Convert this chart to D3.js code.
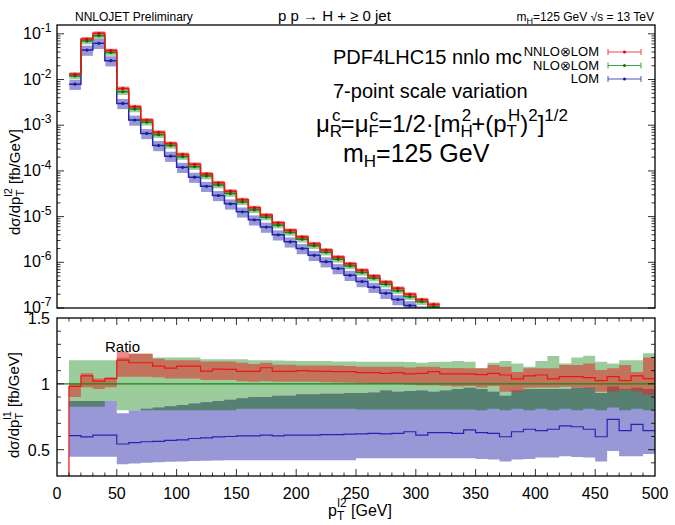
<!DOCTYPE html>
<html>
<head>
<meta charset="utf-8">
<script src="https://cdn.jsdelivr.net/npm/d3@7"></script>
<style>
body { margin: 0; background: #fff; }
svg { font-family: "Liberation Sans", Arial, sans-serif; }
</style>
</head>
<body>
<svg id="chart" width="675" height="525"></svg>
<script>
// ---- data ----
// upper panel: 10 GeV bins starting at 10 GeV, up to 320 GeV
const binsTop = d3.range(10, 320, 10)
const nnloTop = [0.013, 0.077, 0.103, 0.043, 0.0064, 0.00254, 0.0013, 7.0e-4, 4.0e-4, 2.3e-4,
  1.4e-4, 8.6e-5, 5.5e-5, 3.6e-5, 2.35e-5, 1.57e-5, 1.08e-5, 7.3e-6, 5.0e-6, 3.6e-6,
  2.55e-6, 1.85e-6, 1.3e-6, 9.3e-7, 6.7e-7, 5.0e-7, 3.7e-7, 2.7e-7, 2.0e-7, 1.52e-7, 1.2e-7]
const nloTop = [0.012, 0.0695, 0.091, 0.039, 0.0054, 0.00226, 0.00116, 6.2e-4, 3.6e-4, 2.05e-4,
  1.24e-4, 7.7e-5, 4.9e-5, 3.2e-5, 2.1e-5, 1.4e-5, 9.7e-6, 6.5e-6, 4.5e-6, 3.2e-6,
  2.3e-6, 1.66e-6, 1.16e-6, 8.3e-7, 6.0e-7, 4.5e-7, 3.3e-7, 2.4e-7, 1.77e-7, 1.37e-7, 1.07e-7]
const lomTop = [0.0079, 0.044, 0.062, 0.0258, 0.0030, 0.0013, 6.6e-4, 3.6e-4, 2.1e-4, 1.2e-4,
  7.3e-5, 4.6e-5, 2.9e-5, 1.9e-5, 1.27e-5, 8.5e-6, 5.9e-6, 4.0e-6, 2.8e-6, 2.0e-6,
  1.42e-6, 1.03e-6, 7.3e-7, 5.2e-7, 3.8e-7, 2.85e-7, 2.1e-7, 1.53e-7, 1.13e-7, 8.7e-8, 6.8e-8]
// scale-band edges relative to the central value (upper panel)
const nnloBandTop = [0.9, 1.1]
const nloBandTop = [0.85, 1.18]
const lomBandTop = [0.75, 1.25]

// ratio panel: 10 GeV bins starting at 0 GeV, up to 500 GeV
const binsRat = d3.range(0, 500, 10)
const nnloRatio = [0, 0.98, 1.06, 1.02, 1.04, 1.18, 1.16, 1.16, 1.135, 1.12, 1.135,
  1.135, 1.097, 1.112, 1.11, 1.095, 1.095, 1.122, 1.095, 1.095, 1.10,
  1.097, 1.095, 1.092, 1.092, 1.085, 1.085, 1.08, 1.085, 1.075, 1.08,
  1.092, 1.075, 1.075, 1.075, 1.07, 1.08, 1.067, 1.037, 1.06, 1.067,
  1.037, 1.055, 1.055, 1.047, 1.024, 1.055, 1.024, 1.06, 1.04]
const nnloRatioHi = [null, 1.00, 1.08, 1.04, 1.05, 1.244, 1.23, 1.23, 1.19, 1.18, 1.18,
  1.18, 1.17, 1.17, 1.17, 1.16, 1.15, 1.16, 1.145, 1.145, 1.14,
  1.14, 1.14, 1.14, 1.135, 1.13, 1.13, 1.13, 1.13, 1.125, 1.13,
  1.13, 1.12, 1.12, 1.118, 1.118, 1.143, 1.13, 1.09, 1.118, 1.118,
  1.118, 1.143, 1.143, 1.155, 1.105, 1.118, 1.143, 1.09, 1.20]
const nnloRatioLo = [null, 0.90, 0.975, 0.96, 0.975, 1.054, 1.054, 1.054, 1.05, 1.04, 1.04,
  1.04, 1.03, 1.03, 1.03, 1.02, 1.016, 1.02, 1.016, 1.016, 1.016,
  1.015, 1.012, 1.01, 1.008, 1.004, 1.0, 1.0, 1.0, 0.995, 0.99,
  0.99, 0.985, 0.98, 0.983, 0.973, 0.983, 0.94, 0.94, 0.97, 0.973,
  0.973, 0.978, 0.973, 0.965, 0.94, 0.94, 0.953, 0.94, 0.915]
const nloRatio = [1, 1, 1, 1, 1, 1, 1, 1, 1, 1, 1, 1, 1, 1, 1, 1, 1, 1, 1, 1, 1, 1, 1, 1, 1,
  1, 1, 1, 1, 1, 1, 1, 1, 1, 1, 1, 1, 1, 1, 1, 1, 1, 1, 1, 1, 1, 1, 1, 1, 1]
const nloRatioHi = [null, 1.18, 1.18, 1.18, 1.18, 1.20, 1.226, 1.226, 1.20, 1.20, 1.20,
  1.20, 1.186, 1.186, 1.186, 1.186, 1.18, 1.18, 1.178, 1.175, 1.173,
  1.173, 1.173, 1.17, 1.17, 1.168, 1.168, 1.168, 1.168, 1.165, 1.16,
  1.165, 1.168, 1.173, 1.168, 1.118, 1.16, 1.173, 1.155, 1.13, 1.173,
  1.211, 1.155, 1.20, 1.214, 1.168, 1.155, 1.18, 1.18, 1.232]
const nloRatioLo = [null, 0.826, 0.826, 0.826, 0.826, 0.80, 0.80, 0.80, 0.80, 0.80, 0.80,
  0.80, 0.80, 0.80, 0.80, 0.81, 0.81, 0.81, 0.81, 0.81, 0.81,
  0.81, 0.81, 0.81, 0.81, 0.805, 0.805, 0.805, 0.805, 0.805, 0.805,
  0.805, 0.805, 0.805, 0.805, 0.80, 0.81, 0.80, 0.81, 0.80, 0.81,
  0.80, 0.81, 0.80, 0.81, 0.80, 0.82, 0.80, 0.81, 0.80]
const lomRatio = [null, 0.606, 0.597, 0.61, 0.61, 0.543, 0.553, 0.56, 0.563, 0.57, 0.575,
  0.585, 0.59, 0.597, 0.60, 0.604, 0.604, 0.61, 0.605, 0.611, 0.611,
  0.611, 0.615, 0.615, 0.618, 0.62, 0.624, 0.62, 0.624, 0.636, 0.611,
  0.63, 0.63, 0.624, 0.65, 0.63, 0.624, 0.598, 0.636, 0.655, 0.645,
  0.655, 0.68, 0.674, 0.655, 0.598, 0.73, 0.645, 0.692, 0.645]
const lomRatioHi = [null, 0.87, 0.87, 0.87, 0.87, 0.776, 0.80, 0.81, 0.82, 0.83, 0.84,
  0.85, 0.86, 0.87, 0.88, 0.89, 0.90, 0.90, 0.91, 0.91, 0.92,
  0.92, 0.925, 0.925, 0.93, 0.93, 0.935, 0.95, 0.94, 0.945, 0.95,
  0.94, 0.95, 0.96, 0.97, 0.96, 0.94, 0.91, 0.95, 0.96, 0.96,
  0.96, 0.96, 0.97, 0.97, 0.93, 0.98, 0.96, 0.97, 0.96]
const lomRatioLo = [null, 0.447, 0.447, 0.447, 0.447, 0.389, 0.395, 0.40, 0.405, 0.408, 0.41,
  0.413, 0.415, 0.418, 0.42, 0.42, 0.42, 0.42, 0.42, 0.42, 0.42,
  0.42, 0.42, 0.42, 0.42, 0.434, 0.434, 0.434, 0.434, 0.434, 0.434,
  0.434, 0.434, 0.434, 0.434, 0.43, 0.425, 0.41, 0.425, 0.43, 0.44,
  0.44, 0.45, 0.445, 0.44, 0.41, 0.49, 0.45, 0.45, 0.467]

const binWidth = 10
const xTicks = [0, 50, 100, 150, 200, 250, 300, 350, 400, 450, 500]
const yTopTicks = [1e-7, 1e-6, 1e-5, 1e-4, 1e-3, 1e-2, 1e-1]
const yRatTicks = [0.5, 1, 1.5]
const legendLabels = ["NNLO\u2297LOM", "NLO\u2297LOM", "LOM"]

// ---- styles ----
const col = {
  nnlo: "#f01414", nlo: "#128a12", lom: "#2424b4",
  nnloBand: "rgba(228,40,40,0.55)", nloBand: "rgb(156,204,156)",
  lomBand: "rgb(152,152,214)", overlap: "rgb(86,128,114)"
}

const svg = d3.select("#chart")
const left = 57, right = 655
const top1 = 25, bot1 = 308, top2 = 318, bot2 = 476

let x = d3.scaleLinear().domain([0, 500]).range([left, right])
let yTop = d3.scaleLog().domain([1e-7, 0.156]).range([bot1, top1])
let yRat = d3.scaleLinear().domain([0.3, 1.5]).range([bot2, top2])

let defs = svg.append("defs")
defs.append("clipPath").attr("id", "clipTop").append("rect")
  .attr("x", left).attr("y", top1).attr("width", right - left).attr("height", bot1 - top1)
defs.append("clipPath").attr("id", "clipRat").append("rect")
  .attr("x", left).attr("y", top2).attr("width", right - left).attr("height", bot2 - top2)

// step helpers
function stepPts(bins, vals) {
  let pts = bins.map((b, i) => [b, vals[i]])
  pts.push([bins[bins.length - 1] + binWidth, vals[vals.length - 1]])
  return pts
}
function bandPts(bins, lo, hi) {
  let pts = bins.map((b, i) => [b, lo[i], hi[i]])
  pts.push([bins[bins.length - 1] + binWidth, lo[lo.length - 1], hi[hi.length - 1]])
  return pts
}
// where two bands overlap (drawn in the darker mixed colour)
function overlap(lo1, hi1, lo2, hi2) {
  let lo = lo1.map((v, i) => v == null ? null : Math.max(v, lo2[i]))
  let hi = hi1.map((v, i) => v == null ? null : Math.min(v, hi2[i]))
  return [lo.map((v, i) => v != null && hi[i] > v ? v : null), hi]
}

// ---- upper panel ----
let gTop = svg.append("g").attr("clip-path", "url(#clipTop)")
let lineTop = d3.line().curve(d3.curveStepAfter)
  .x(d => x(d[0])).y(d => yTop(d[1]))

let nloLoT = nloTop.map(v => v * nloBandTop[0]), nloHiT = nloTop.map(v => v * nloBandTop[1])
let lomLoT = lomTop.map(v => v * lomBandTop[0]), lomHiT = lomTop.map(v => v * lomBandTop[1])
let nnloLoT = nnloTop.map(v => v * nnloBandTop[0]), nnloHiT = nnloTop.map(v => v * nnloBandTop[1])
let [ovLoT, ovHiT] = overlap(nloLoT, nloHiT, lomLoT, lomHiT)

let bandsTop = [
  [nloLoT, nloHiT, col.nloBand],
  [lomLoT, lomHiT, col.lomBand],
  [ovLoT, ovHiT, col.overlap],
  [nnloLoT, nnloHiT, col.nnloBand]
]
bandsTop.forEach(([lo, hi, fill]) => {
  gTop.append("g")
    .selectAll("rect").data(binsTop.filter((d, i) => lo[i] != null)).join("rect")
    .attr("x", d => x(d) + 0.5)
    .attr("width", x(binWidth) - x(0) - 0.5)
    .attr("y", d => yTop(hi[binsTop.indexOf(d)]))
    .attr("height", d => yTop(lo[binsTop.indexOf(d)]) - yTop(hi[binsTop.indexOf(d)]))
    .attr("fill", fill)
})

let linesTop = [[lomTop, col.lom], [nloTop, col.nlo], [nnloTop, col.nnlo]]
linesTop.forEach(([vals, c]) => {
  gTop.append("path").datum(stepPts(binsTop, vals))
    .attr("d", lineTop).attr("fill", "none").attr("stroke", c).attr("stroke-width", 1.5)
  gTop.append("g").selectAll("circle").data(binsTop).join("circle")
    .attr("cx", d => x(d + binWidth / 2))
    .attr("cy", (d, i) => yTop(vals[i]))
    .attr("r", 1.6).attr("fill", d3.color(c).darker(0.6))
})

// ---- ratio panel ----
let gRat = svg.append("g").attr("clip-path", "url(#clipRat)")
let areaRat = d3.area().curve(d3.curveStepAfter)
  .defined(d => d[1] != null)
  .x(d => x(d[0])).y0(d => yRat(d[1])).y1(d => yRat(d[2]))
let lineRat = d3.line().curve(d3.curveStepAfter)
  .defined(d => d[1] != null)
  .x(d => x(d[0])).y(d => yRat(d[1]))

let [ovLo, ovHi] = overlap(nloRatioLo, nloRatioHi, lomRatioLo, lomRatioHi)
let bandsRat = [
  [nloRatioLo, nloRatioHi, col.nloBand],
  [lomRatioLo, lomRatioHi, col.lomBand],
  [ovLo, ovHi, col.overlap],
  [nnloRatioLo, nnloRatioHi, col.nnloBand]
]
bandsRat.forEach(([lo, hi, fill]) => {
  gRat.append("path").datum(bandPts(binsRat, lo, hi))
    .attr("d", areaRat).attr("fill", fill)
})

let linesRat = [[lomRatio, col.lom], [nloRatio, col.nlo], [nnloRatio, col.nnlo]]
linesRat.forEach(([vals, c]) => {
  gRat.append("path").datum(stepPts(binsRat, vals))
    .attr("d", lineRat).attr("fill", "none").attr("stroke", c).attr("stroke-width", 1.2)
})

// ---- frames and ticks ----
let axes = svg.append("g").attr("stroke", "#000").attr("fill", "none")
axes.append("rect").attr("x", left).attr("y", top1).attr("width", right - left).attr("height", bot1 - top1).attr("stroke-width", 1.3)
axes.append("rect").attr("x", left).attr("y", top2).attr("width", right - left).attr("height", bot2 - top2).attr("stroke-width", 1.3)

// upper y ticks (log, major + minor) on both sides
let logMinor = []
yTopTicks.forEach(t => { for (let k = 2; k <= 9; k++) { if (t * k < 0.156) logMinor.push(t * k) } })
let yTopAll = yTopTicks.map(t => [t, 7]).concat(logMinor.map(t => [t, 3.5]))
axes.append("g").selectAll("path").data(yTopAll).join("path")
  .attr("stroke-width", 0.8)
  .attr("d", d => `M${left},${yTop(d[0])}h${d[1]}M${right},${yTop(d[0])}h${-d[1]}`)

// ratio y ticks
let ratMinor = d3.range(4, 15).map(k => k / 10)
axes.append("g").selectAll("path").data(ratMinor).join("path")
  .attr("stroke-width", 0.8)
  .attr("d", d => {
    let L = yRatTicks.includes(d) ? 7 : 4
    return `M${left},${yRat(d)}h${L}M${right},${yRat(d)}h${-L}`
  })

// x ticks on ratio panel, bottom and top
let xMinor = d3.range(10, 500, 10)
axes.append("g").selectAll("path").data(xMinor).join("path")
  .attr("stroke-width", 0.8)
  .attr("d", d => {
    let L = xTicks.includes(d) ? 7 : 3.5
    return `M${x(d)},${bot2}v${-L}M${x(d)},${top2}v${L}`
  })

// ---- tick labels ----
let labels = svg.append("g").attr("fill", "#000").attr("font-size", 16)
labels.selectAll("text.xt").data(xTicks).join("text").attr("class", "xt")
  .attr("x", d => x(d)).attr("y", 499).attr("text-anchor", "middle").text(d => d)
labels.selectAll("text.yr").data(yRatTicks).join("text").attr("class", "yr")
  .attr("x", 50).attr("y", d => yRat(d) + 6).attr("text-anchor", "end").text(d => d)
let yl = labels.selectAll("text.yt").data(yTopTicks).join("text").attr("class", "yt")
  .attr("x", 23).attr("y", d => yTop(d) + 5)
yl.append("tspan").text("10")
yl.append("tspan").attr("dy", -7).attr("font-size", 12).text(d => Math.round(Math.log10(d)))

// ---- axis titles ----
let tUp = svg.append("text").attr("font-size", 15)
  .attr("transform", "translate(20,235) rotate(-90)")
tUp.append("tspan").text("d\u03c3/dp")
tUp.append("tspan").attr("font-size", 11).attr("dy", 4).text("T")
tUp.append("tspan").attr("font-size", 11).attr("dx", -7).attr("dy", -12).text("l2")
tUp.append("tspan").attr("dy", 8).text(" [fb/GeV]")

let tLo = svg.append("text").attr("font-size", 15)
  .attr("transform", "translate(19,458) rotate(-90)")
tLo.append("tspan").text("d\u03c3/dp")
tLo.append("tspan").attr("font-size", 11).attr("dy", 4).text("T")
tLo.append("tspan").attr("font-size", 11).attr("dx", -7).attr("dy", -12).text("l1")
tLo.append("tspan").attr("dy", 8).text(" [fb/GeV]")

let tX = svg.append("text").attr("font-size", 16).attr("x", 328).attr("y", 516)
tX.append("tspan").text("p")
tX.append("tspan").attr("font-size", 12).attr("dy", 4).text("T")
tX.append("tspan").attr("font-size", 12).attr("dx", -7).attr("dy", -13).text("l2")
tX.append("tspan").attr("dy", 9).text(" [GeV]")

// ---- header texts ----
svg.append("text").attr("x", 75).attr("y", 21).attr("font-size", 12).text("NNLOJET Preliminary")
svg.append("text").attr("x", 278).attr("y", 21).attr("font-size", 15).text("p p \u2192 H + \u2265 0 jet")
let hr = svg.append("text").attr("x", 654).attr("y", 21).attr("font-size", 12).attr("text-anchor", "end")
hr.append("tspan").text("m")
hr.append("tspan").attr("font-size", 9).attr("dy", 3).text("H")
hr.append("tspan").attr("dy", -3).text("=125 GeV \u221as  = 13 TeV")

// ---- annotation block ----
let ann = svg.append("g").attr("font-size", 20)
ann.append("text").attr("x", 333).attr("y", 64).text("PDF4LHC15 nnlo mc")
ann.append("text").attr("x", 333).attr("y", 98).text("7-point scale variation")
let f = ann.append("text").attr("x", 316).attr("y", 132).attr("font-size", 24)
f.append("tspan").text("\u03bc")
f.append("tspan").attr("font-size", 17).attr("dy", 5).text("R")
f.append("tspan").attr("font-size", 17).attr("dx", -10).attr("dy", -16).text("c")
f.append("tspan").attr("dy", 11).text("=\u03bc")
f.append("tspan").attr("font-size", 17).attr("dy", 5).text("F")
f.append("tspan").attr("font-size", 17).attr("dx", -9).attr("dy", -16).text("c")
f.append("tspan").attr("dy", 11).text("=1/2\u00b7[m")
f.append("tspan").attr("font-size", 17).attr("dy", 5).text("H")
f.append("tspan").attr("font-size", 17).attr("dx", -11).attr("dy", -16).text("2")
f.append("tspan").attr("dy", 11).text("+(p")
f.append("tspan").attr("font-size", 17).attr("dy", 5).text("T")
f.append("tspan").attr("font-size", 17).attr("dx", -9).attr("dy", -16).text("H")
f.append("tspan").attr("dy", 11).text(")")
f.append("tspan").attr("font-size", 17).attr("dy", -11).text("2")
f.append("tspan").attr("dy", 11).text("]")
f.append("tspan").attr("font-size", 17).attr("dy", -11).text("1/2")
let mh = ann.append("text").attr("x", 343).attr("y", 162).attr("font-size", 25)
mh.append("tspan").text("m")
mh.append("tspan").attr("font-size", 17).attr("dy", 5).text("H")
mh.append("tspan").attr("dy", -5).text("=125 GeV")

svg.append("text").attr("x", 105).attr("y", 352).attr("font-size", 15).text("Ratio")

// ---- legend ----
let legCols = [col.nnlo, col.nlo, col.lom]
let leg = svg.append("g").selectAll("g").data(legendLabels).join("g")
  .attr("transform", (d, i) => `translate(0,${52 + i * 13.5})`)
leg.append("text").attr("x", 599).attr("y", 4).attr("font-size", 13)
  .attr("text-anchor", "end").text(d => d)
leg.append("path").attr("stroke", (d, i) => legCols[i]).attr("stroke-width", 0.8).attr("fill", "none")
  .attr("d", "M608,0H641M608,-3V3M641,-3V3")
leg.append("circle").attr("cx", 624.5).attr("cy", 0).attr("r", 1.5)
  .attr("fill", (d, i) => d3.color(legCols[i]).darker(0.6))
</script>
</body>
</html>
